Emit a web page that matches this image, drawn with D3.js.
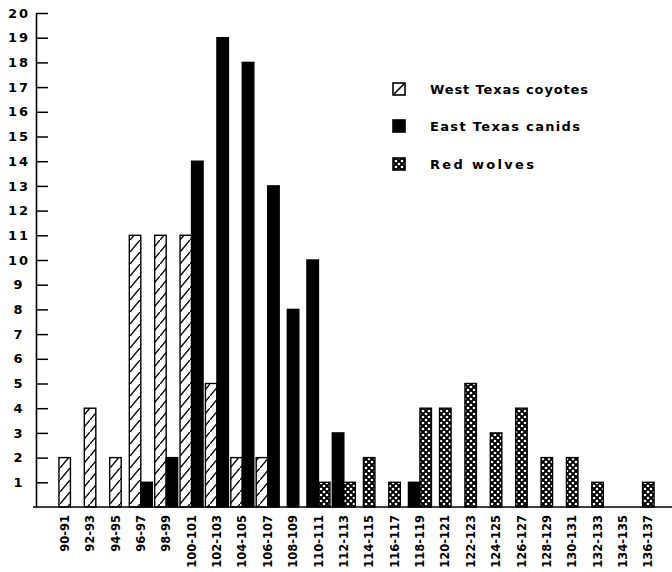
<!DOCTYPE html>
<html>
<head>
<meta charset="utf-8">
<script src="https://cdn.jsdelivr.net/npm/d3@7/dist/d3.min.js"></script>
<style>
  html, body { margin: 0; padding: 0; background: #fff; }
  svg { display: block; }
  text { font-family: "DejaVu Sans", sans-serif; font-weight: bold; fill: #000; }
</style>
</head>
<body>
<script>
// Skull length classes (mm) and counts per group
const categories = ["90-91","92-93","94-95","96-97","98-99","100-101","102-103","104-105",
  "106-107","108-109","110-111","112-113","114-115","116-117","118-119","120-121",
  "122-123","124-125","126-127","128-129","130-131","132-133","134-135","136-137"];
const westTexasCoyotes = [2,4,2,11,11,11,5,2,2,0,0,0,0,0,0,0,0,0,0,0,0,0,0,0];
const eastTexasCanids  = [0,0,0,1,2,14,19,18,13,8,10,3,0,0,1,0,0,0,0,0,0,0,0,0];
const redWolves        = [0,0,0,0,0,0,0,0,0,0,1,1,2,1,4,4,5,3,4,2,2,1,0,1];
const seriesNames = ["West Texas coyotes", "East Texas canids", "Red wolves"];
const yTicks = d3.range(1, 21);

const W = 672, H = 572;
const svg = d3.select("body").append("svg").attr("width", W).attr("height", H);

// Fill patterns
const defs = svg.append("defs");
const hatch = defs.append("pattern").attr("id", "hatch")
  .attr("patternUnits", "userSpaceOnUse").attr("width", 10).attr("height", 12);
hatch.append("rect").attr("width", 10).attr("height", 12).attr("fill", "#fff");
hatch.append("line").attr("x1", -1).attr("y1", 13.2).attr("x2", 11).attr("y2", -1.2)
  .attr("stroke", "#000").attr("stroke-width", 1.4);

const lattice = defs.append("pattern").attr("id", "lattice")
  .attr("patternUnits", "userSpaceOnUse").attr("width", 6).attr("height", 6);
lattice.append("rect").attr("width", 6).attr("height", 6).attr("fill", "#000");
[[3, 3], [0, 0], [6, 0], [0, 6], [6, 6]].forEach(([cx, cy]) => {
  lattice.append("circle").attr("cx", cx).attr("cy", cy).attr("r", 1.35).attr("fill", "#fff");
});

const fills = ["url(#hatch)", "#000", "url(#lattice)"];

// Scales
const x = d3.scaleBand().domain(categories).range([52, 661]).padding(0);
const y = d3.scaleLinear().domain([0, 20]).range([507, 13]);
const barW = 11.5;

// Bars: series present in a class sit side by side, centred on the class
const allSeries = [westTexasCoyotes, eastTexasCanids, redWolves];
const bars = [];
categories.forEach((c, i) => {
  const present = allSeries.map((s, k) => ({ k, v: s[i] })).filter(d => d.v > 0);
  const cx = x(c) + x.bandwidth() / 2;
  present.forEach((d, j) => {
    bars.push({ cat: c, k: d.k, v: d.v, x0: cx + (j - present.length / 2) * barW });
  });
});

svg.append("g").selectAll("rect").data(bars).join("rect")
  .attr("x", d => d.x0)
  .attr("y", d => y(d.v))
  .attr("width", barW)
  .attr("height", d => y(0) - y(d.v))
  .attr("fill", d => fills[d.k])
  .attr("stroke", "#000")
  .attr("stroke-width", 1.4);

// Y axis with inward ticks
const yAxis = svg.append("g").attr("transform", "translate(36,0)")
  .call(d3.axisLeft(y).tickValues(yTicks).tickSizeInner(-12).tickSizeOuter(0).tickFormat(d3.format("d")));
yAxis.select(".domain").attr("stroke", "#000").attr("stroke-width", 1.6);
yAxis.selectAll(".tick line").attr("stroke", "#000").attr("stroke-width", 1.5);
yAxis.selectAll(".tick text")
  .attr("x", -17).attr("text-anchor", "middle")
  .style("font-size", "13px").style("letter-spacing", "2px")
  .style("font-family", "'DejaVu Sans', sans-serif").style("font-weight", "bold");

// Baseline
svg.append("line").attr("x1", 33).attr("x2", W).attr("y1", y(0)).attr("y2", y(0))
  .attr("stroke", "#000").attr("stroke-width", 1.6);

// X axis labels, rotated
const xAxis = svg.append("g").attr("transform", `translate(0,${y(0)})`)
  .call(d3.axisBottom(x).tickSize(0));
xAxis.select(".domain").remove();
xAxis.selectAll(".tick text")
  .attr("transform", "rotate(-90)")
  .attr("x", -8).attr("y", 0).attr("dy", "0.36em")
  .attr("text-anchor", "end")
  .style("font-size", "11.5px")
  .style("font-family", "'DejaVu Sans', sans-serif").style("font-weight", "bold");

// Legend
const legend = svg.append("g");
const legendY = [89, 126, 164];
const legendLen = [158, 150, 104];
seriesNames.forEach((name, k) => {
  const g = legend.append("g").attr("transform", `translate(393,${legendY[k]})`);
  g.append("rect").attr("x", 0).attr("y", -6).attr("width", 12).attr("height", 12)
    .attr("fill", k === 0 ? "#fff" : k === 1 ? "#000" : "url(#lattice)")
    .attr("stroke", "#000").attr("stroke-width", 1.6);
  if (k === 0) {
    g.append("line").attr("x1", 1).attr("y1", 5).attr("x2", 11).attr("y2", -5)
      .attr("stroke", "#000").attr("stroke-width", 1.6);
  }
  g.append("text").attr("x", 37).attr("y", 0).attr("dy", "0.36em")
    .attr("textLength", legendLen[k]).attr("lengthAdjust", "spacing")
    .style("font-size", "13px")
    .text(name);
});
</script>
</body>
</html>
